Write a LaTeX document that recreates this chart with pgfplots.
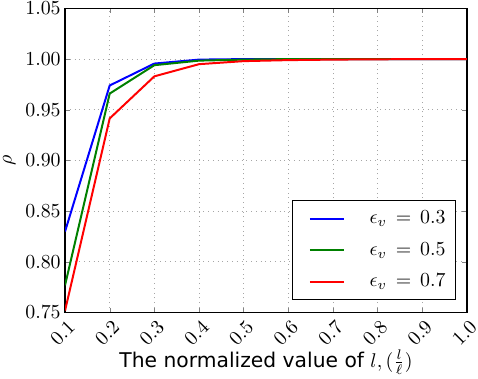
\documentclass[border=0pt]{standalone}
\usepackage{pgfplots}
\pgfplotsset{compat=1.18}
\usepackage[no-math]{fontspec}
\setmainfont{DejaVu Sans}
\definecolor{mplblue}{rgb}{0,0,1}
\definecolor{mplgreen}{rgb}{0,0.5,0}
\definecolor{mplred}{rgb}{1,0,0}
\begin{document}
\begin{tikzpicture}
  \begin{axis}[
      scale only axis,
      width=201.5bp,
      height=152.5bp,
      xmin=0.1, xmax=1.0,
      ymin=0.75, ymax=1.05,
      xtick={0.1,0.2,...,1.0},
      ytick={0.75,0.80,...,1.05},
      xticklabels={$0.1$,$0.2$,$0.3$,$0.4$,$0.5$,$0.6$,$0.7$,$0.8$,$0.9$,$1.0$},
      tick label style={font=\fontsize{10.25}{12}\selectfont},
      yticklabel style={inner xsep=2bp, inner ysep=1bp,
        /pgf/number format/.cd, fixed, fixed zerofill, precision=2},
      xticklabel style={inner sep=0pt, yshift=-3bp, xshift=1bp, rotate=45, anchor=north east},
      tick align=inside,
      major tick length=2.5bp,
      grid=major,
      grid style={dotted, gray!70},
      axis line style={black, line width=0.6pt},
      xlabel={The normalized value of $l, (\frac{l}{\ell})$},
      ylabel={$\rho$},
      every axis x label/.style={at={(rel axis cs:0.5,0)}, anchor=base,
        yshift=-27.5bp, inner sep=2bp, font=\fontsize{10.2}{12}\selectfont},
      every axis y label/.style={at={(rel axis cs:0,0.5)}, anchor=center,
        shift={(-28bp,0bp)}, rotate=90, inner xsep=0pt, inner ysep=1.5bp},
      legend style={at={(0.973,0.04)}, anchor=south east, draw=black, line width=0.5pt,
        row sep=8bp, inner xsep=5bp, inner ysep=5bp,
        nodes={inner xsep=0pt, inner ysep=0pt},
        font=\fontsize{10.25}{12}\selectfont},
      legend cell align=left,
      legend image code/.code={\path (0bp,0bp); \draw (3bp,0bp) -- (20bp,0bp);},
    ]
    % eps_v = 0.3
    \addplot[mplblue, line width=1pt] coordinates {
      (0.1,0.830) (0.2,0.974) (0.3,0.9956) (0.4,0.9995) (0.5,1.0)
      (0.6,1.0) (0.7,1.0) (0.8,1.0) (0.9,1.0) (1.0,1.0)
    };
    % eps_v = 0.5
    \addplot[mplgreen, line width=1pt] coordinates {
      (0.1,0.777) (0.2,0.966) (0.3,0.994) (0.4,0.9985) (0.5,0.9995)
      (0.6,1.0) (0.7,1.0) (0.8,1.0) (0.9,1.0) (1.0,1.0)
    };
    % eps_v = 0.7
    \addplot[mplred, line width=1pt] coordinates {
      (0.1,0.752) (0.2,0.9415) (0.3,0.983) (0.4,0.995) (0.5,0.998)
      (0.6,0.999) (0.7,0.9995) (0.8,0.9998) (0.9,1.0) (1.0,1.0)
    };
    \legend{{\hspace{12.5bp}$\epsilon_v\,=\,0.3$},
      {\hspace{12.5bp}$\epsilon_v\,=\,0.5$},
      {\hspace{12.5bp}$\epsilon_v\,=\,0.7$}}
  \end{axis}
\end{tikzpicture}
\end{document}
